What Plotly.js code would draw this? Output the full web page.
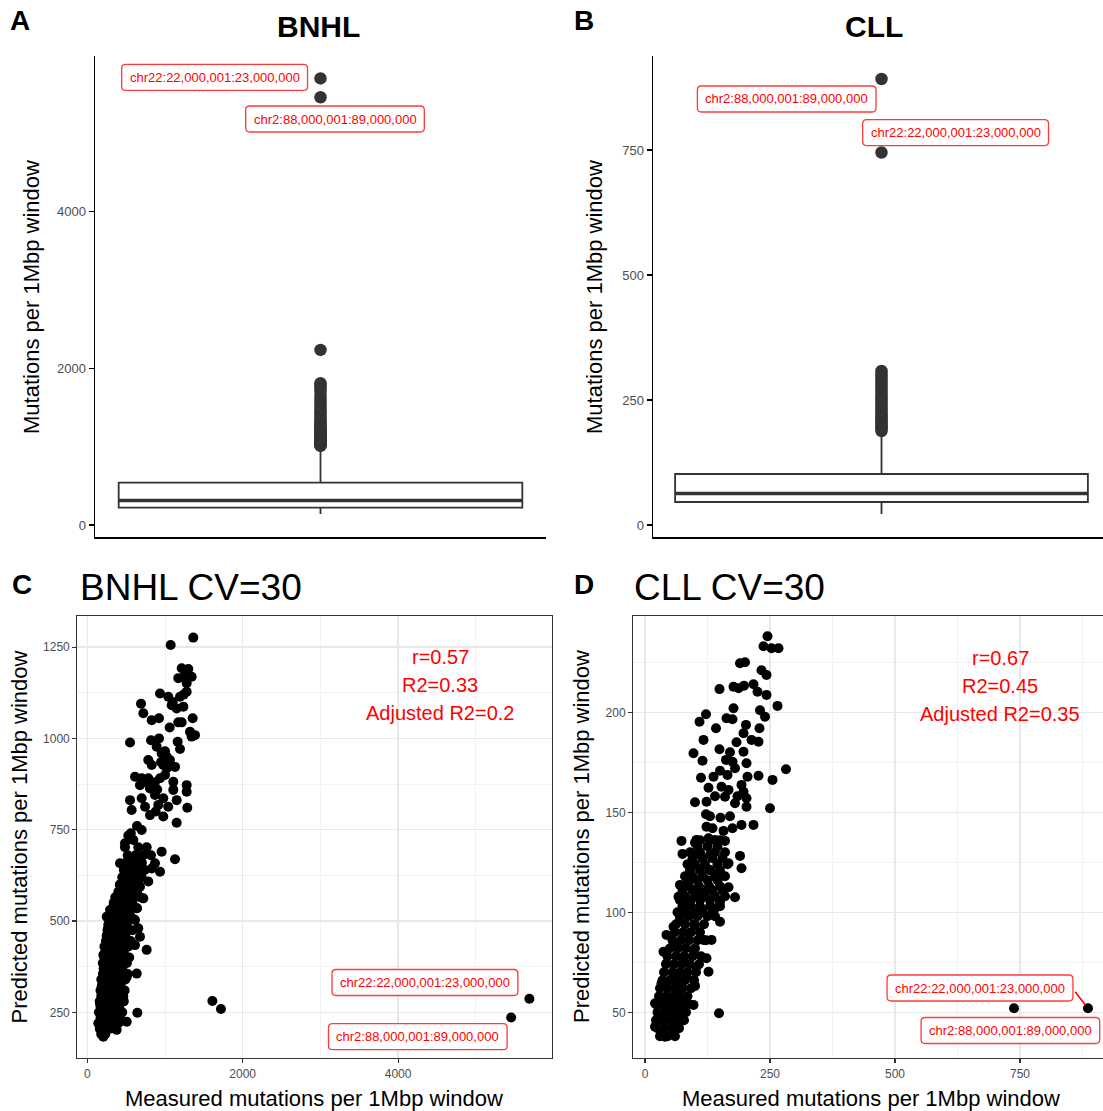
<!DOCTYPE html>
<html><head><meta charset="utf-8">
<script src="https://cdn.plot.ly/plotly-3.0.1.min.js"></script>
<style>html,body{margin:0;padding:0;background:#fff}</style>
</head><body><div id="chart" style="width:1103px;height:1111px"></div>
<script>
// ---------- Data ----------
// Panel A (BNHL) box statistics and outliers
const aStats = {lower:140, q1:221, median:312, q3:540, upper:960};
const aOutliers = [1010,1018,1026,1034,1042,1050,1058,1066,1075,1084,1093,1102,1112,1122,1133,1145,1158,1172,1186,1200,1216,1232,1250,1268,1288,1310,1333,1357,1382,1410,1440,1472,1505,1540,1580,1620,1665,1710,1750,1785,1810,2235,5460,5700];
const aTicks = [0,2000,4000];
// Panel B (CLL)
const bStats = {lower:22, q1:46, median:63, q3:102, upper:180};
const bOutliers = [188,192,196,200,204,208,212,216,220,225,230,235,240,245,250,255,260,266,272,278,284,290,296,302,308,745,892];
const bTicks = [0,250,500,750];

// Panel C (BNHL CV=30): measured vs predicted
const cMeasured = [
 1364,1073,1215,1343,1171,1279,1279,936,1042,1193,
 691,1086,1236,1150,721,829,923,1356,1171,1215,
 1322,1386,1343,550,820,923,1163,893,1193,957,
 1022,1064,785,829,978,1129,1022,614,700,785,
 936,678,1107,1279,1279,807,1107,550,700,871,
 978,1150,571,743,914,1042,1287,807,978,1150,
 700,528,592,485,
 1000,950,1050,870,900,760,1000,1100,1250,1300,1240,880,640,560,1060,
 485,656,764,957,1129,421,550,700,871,936,
 829,785,421,678,614,721,378,507,292,636,
 335,550,250,614,656,463,270,678,764,614,
 378,250,206,463,335,636,215,507,378,185,
 314,463,163,292,644,507,142,228,206,378,
 1610,1720,5455,5690,
 180,230, 160,220,290,360, 150,230,310,400, 170,250,330,420, 150,210,290,370,450,
 170,250,330,410, 160,230,310,390,470, 180,260,340,420, 170,240,320,400,480,
 190,270,350,430, 180,250,330,410,490, 200,280,360,440,520, 210,290,370,450,
 200,270,350,430,510, 220,300,380,460,540, 230,310,390,470, 220,290,370,450,530,
 240,320,400,480,560, 250,330,410,490, 260,340,420,500,580, 270,350,430,510,
 280,360,440,520,600, 300,380,460,540, 320,400,480,560,640, 340,420,500,580,
 360,440,520,600,680, 400,480,560,640, 420,500,580,660, 450,530,610,700,
 470,560,650,740, 500,600,700, 520,620,720,820
];
const cPredicted = [
 1276,1256,1192,1169,1165,1151,1128,1123,1114,1114,
 1095,1091,1087,1082,1069,1050,1055,1055,1044,1044,
 1018,1009,1005,989,995,1000,991,977,971,959,
 950,941,941,927,927,922,918,895,891,891,
 891,872,881,872,854,863,859,831,836,845,
 836,831,804,813,818,813,810,790,786,769,
 749,734,722,713,
 965,935,930,880,860,880,900,1100,1170,1190,1120,800,760,740,1030,
 702,702,702,690,669,658,653,658,658,635,
 644,608,598,594,571,562,553,544,530,535,
 512,516,512,503,480,480,480,457,421,434,
 448,457,407,411,393,356,361,347,329,320,
 306,293,274,265,249,224,220,192,183,202,
 281,259,236,287,
 190,190, 205,205,205,205, 220,220,220,220, 235,235,235,235, 250,250,250,250,250,
 265,265,265,265, 280,280,280,280,280, 295,295,295,295, 310,310,310,310,310,
 325,325,325,325, 340,340,340,340,340, 355,355,355,355,355, 370,370,370,370,
 385,385,385,385,385, 400,400,400,400,400, 415,415,415,415, 430,430,430,430,430,
 445,445,445,445,445, 460,460,460,460, 475,475,475,475,475, 490,490,490,490,
 505,505,505,505,505, 520,520,520,520, 535,535,535,535,535, 550,550,550,550,
 565,565,565,565,565, 580,580,580,580, 600,600,600,600, 620,620,620,620,
 640,640,640,640, 660,660,660, 680,680,680,680
];
const cXTicks = [0,2000,4000];
const cYTicks = [250,500,750,1000,1250];

// Panel D (CLL CV=30)
const dMeasured = [
 245,237,253,267,190,200,233,243,149,177,
 187,198,217,225,243,265,122,177,163,175,
 230,240,109,142,202,229,197,213,227,183,
 117,97,149,170,197,115,162,175,203,282,
 150,180,112,137,165,205,227,255,127,153,
 167,193,197,100,123,160,180,203,203,250,
 122,151,193,217,123,157,73,103,127,140,160,
 100,75,98,130,190,167,193,147,130,70,
 90,167,133,110,67,180,150,90,140,77,
 113,150,70,57,100,43,87,133,117,37,
 63,97,123,127,43,77,103,57,83,100,
 33,63,20,43,73,97,148,27,53,70,
 33,40,57,20,738,886,
 30,45,60, 25,40,55,68, 22,35,50,65,78, 25,40,55,70,82, 22,35,48,62,76,88,
 28,42,56,70,85, 30,45,60,75,92, 35,50,65,80,98, 38,55,70,85,102,
 42,58,74,90,108, 45,62,78,95,112, 50,66,82,100, 55,72,88,105,122,
 60,76,92,110, 62,80,98,118, 70,88,105,125,140, 75,92,110,130,150,
 80,100,120,140,160, 88,108,128,150, 80,95,115,140,160, 85,100,120,145,165,
 90,110,140,160, 110,130,150, 135,175, 130,170, 140,185,
 65,80,95,115,135, 70,90,110,130, 75,95,115,135,155, 85,105,125,145,
 90,110,130,150, 95,115,135,155, 105,125,145
];
const dPredicted = [
 238,233,232,232,224.5,225,221,218.7,211.6,212.8,
 212,213.3,214,210.3,208.7,203.2,199,202,197,196.5,
 201,197.8,195.3,192,193.7,192,189.5,186.2,185.3,185,
 186.2,179.5,181.5,180,180.3,175.8,176.2,175.3,174.5,171.5,
 170.8,172,167.3,167.8,168.7,167.8,168.3,166.2,162.3,162.8,
 161.2,163.7,160.3,155,155.3,157.8,154.5,157,152.8,152,
 149,147.3,143.7,143.7,142.8,140.7,135.7,136.2,137,136.2,135.7,
 134.8,129.2,128.7,128.7,128.2,124.5,122,119.5,121.2,113.7,
 116.2,112.5,111.2,109.5,107.8,107.5,105.3,105.3,102,102.8,
 101.2,95.3,96.2,92.8,93.7,88.7,89.5,86.2,86.2,80.3,
 82.8,81.2,77,70.3,74.5,76.2,72.8,69.5,67.8,63.2,
 64.5,62,54.5,57.8,56.2,53.7,49.5,47.8,48.7,45.3,
 39.5,37.8,40.3,42.8,52,52,
 38,38,38, 42,42,42,42, 46,46,46,46,46, 50,50,50,50,50, 54,54,54,54,54,54,
 58,58,58,58,58, 62,62,62,62,62, 66,66,66,66,66, 70,70,70,70,70,
 74,74,74,74,74, 78,78,78,78,78, 82,82,82,82, 86,86,86,86,86,
 90,90,90,90, 94,94,94,94, 98,98,98,98,98, 103,103,103,103,103,
 108,108,108,108,108, 113,113,113,113, 118,118,118,118,118, 124,124,124,124,124,
 130,130,130,130, 136,136,136, 142,142, 148,148, 158,158,
 100,100,100,100,100, 106,106,106,106, 111,111,111,111,111, 116,116,116,116,
 121,121,121,121, 127,127,127,127, 133,133,133
];
const dXTicks = [0,250,500,750];
const dYTicks = [50,100,150,200];

const labelChr22 = 'chr22:22,000,001:23,000,000';
const labelChr2 = 'chr2:88,000,001:89,000,000';
const statsC = ['r=0.57','R2=0.33','Adjusted R2=0.2'];
const statsD = ['r=0.67','R2=0.45','Adjusted R2=0.35'];

// ---------- Layout helpers ----------
const W = 1103, H = 1111;
const fx = p => p / W, fy = p => 1 - p / H;
const FONT = 'Liberation Sans, Arial, Helvetica, sans-serif';
const boxWA = 1.79, boxWB = 1.83;

function boxTrace(st, w, xa, ya) {
  return {type:'box', x:[0], q1:[st.q1], median:[st.median], q3:[st.q3],
    lowerfence:[st.lower], upperfence:[st.upper], width:w, boxpoints:false,
    whiskerwidth:0, fillcolor:'#ffffff', line:{color:'#333333', width:1.8},
    xaxis:xa, yaxis:ya, hoverinfo:'skip'};
}
function medianTrace(st, w, xa, ya) {
  return {type:'scatter', mode:'lines', x:[-w/2, w/2], y:[st.median, st.median],
    line:{color:'#333333', width:3.6}, xaxis:xa, yaxis:ya, hoverinfo:'skip'};
}
function outlierTrace(vals, xa, ya) {
  return {type:'scatter', mode:'markers', x:vals.map(() => 0), y:vals,
    marker:{color:'#333333', size:12.5}, xaxis:xa, yaxis:ya, hoverinfo:'skip'};
}
function scatterTrace(xs, ys, xa, ya) {
  return {type:'scatter', mode:'markers', x:xs, y:ys,
    marker:{color:'#000000', size:10}, xaxis:xa, yaxis:ya, hoverinfo:'skip'};
}

const data = [
  boxTrace(aStats, boxWA, 'x', 'y'), medianTrace(aStats, boxWA, 'x', 'y'), outlierTrace(aOutliers, 'x', 'y'),
  boxTrace(bStats, boxWB, 'x2', 'y2'), medianTrace(bStats, boxWB, 'x2', 'y2'), outlierTrace(bOutliers, 'x2', 'y2'),
  scatterTrace(cMeasured, cPredicted, 'x3', 'y3'),
  scatterTrace(dMeasured, dPredicted, 'x4', 'y4')
];

const classicX = (dom, rng, anchor) => ({domain:dom, range:rng, anchor:anchor, showline:true,
  linecolor:'#000', linewidth:1.5, showgrid:false, zeroline:false, showticklabels:false, ticks:'', fixedrange:true});
const classicY = (dom, rng, anchor, tv) => ({domain:dom, range:rng, anchor:anchor, showline:true,
  linecolor:'#000', linewidth:1.5, showgrid:false, zeroline:false, tickvals:tv, ticks:'outside',
  ticklen:5, tickwidth:1.5, tickcolor:'#000', tickfont:{family:FONT, size:13, color:'#4d4d4d'}, fixedrange:true});
const bwAxis = (dom, rng, anchor, tv, minorv, mirror) => ({domain:dom, range:rng, anchor:anchor,
  showline:true, mirror:mirror, linecolor:'#333333', linewidth:1.2, zeroline:false,
  showgrid:true, gridcolor:'#e8e8e8', gridwidth:1.4, tickvals:tv, ticks:'outside', ticklen:4,
  tickwidth:1.1, tickcolor:'#333333', tickfont:{family:FONT, size:12, color:'#4d4d4d'},
  minor:{tickmode:'array', tickvals:minorv, showgrid:true, gridcolor:'#f0f0f0', gridwidth:0.8},
  fixedrange:true});

const yTopAB = [fy(537), fy(56)];
const yBotCD = [fy(1058), fy(616)];

function ann(text, x, y, size, opts) {
  return Object.assign({text:text, x:fx(x), y:fy(y), xref:'paper', yref:'paper', showarrow:false,
    xanchor:'center', yanchor:'middle', font:{family:FONT, size:size, color:'#000'}}, opts || {});
}

// rounded label boxes (ggrepel style)
const ctx = document.createElement('canvas').getContext('2d');
ctx.font = '13px "Liberation Sans", Arial, sans-serif';
const shapes = [];
function roundRect(cx, cy, w, h, r) {
  const x0 = cx - w/2, x1 = cx + w/2, y0 = cy - h/2, y1 = cy + h/2;
  const X = v => fx(v), Y = v => fy(v);
  return `M ${X(x0+r)} ${Y(y0)} L ${X(x1-r)} ${Y(y0)} Q ${X(x1)} ${Y(y0)} ${X(x1)} ${Y(y0+r)} ` +
         `L ${X(x1)} ${Y(y1-r)} Q ${X(x1)} ${Y(y1)} ${X(x1-r)} ${Y(y1)} L ${X(x0+r)} ${Y(y1)} ` +
         `Q ${X(x0)} ${Y(y1)} ${X(x0)} ${Y(y1-r)} L ${X(x0)} ${Y(y0+r)} Q ${X(x0)} ${Y(y0)} ${X(x0+r)} ${Y(y0)} Z`;
}
function redLabel(text, x, y) {
  const w = ctx.measureText(text).width + 16;
  shapes.push({type:'path', xref:'paper', yref:'paper', path:roundRect(x, y, w, 26, 4),
    fillcolor:'#ffffff', line:{color:'#ff3b3b', width:1.3}, layer:'above'});
  return ann(text, x, y, 13, {font:{family:FONT, size:13, color:'#ff0000'}});
}

const iFar = dMeasured.indexOf(Math.max(...dMeasured));
const annotations = [
  ann('<b>A</b>', 20, 21, 28), ann('<b>B</b>', 583.5, 21, 28),
  ann('<b>C</b>', 21.5, 584.5, 28), ann('<b>D</b>', 583.5, 584.5, 28),
  ann('<b>BNHL</b>', 318, 27, 30), ann('<b>CLL</b>', 873.5, 27, 30),
  ann('BNHL CV=30', 78, 587, 37, {xanchor:'left'}), ann('CLL CV=30', 632, 587, 37, {xanchor:'left'}),
  ann('Mutations per 1Mbp window', 31, 297, 22, {textangle:-90}),
  ann('Mutations per 1Mbp window', 594, 297, 22, {textangle:-90}),
  ann('Predicted mutations per 1Mbp window', 18.5, 837, 22, {textangle:-90}),
  ann('Predicted mutations per 1Mbp window', 581, 837, 22, {textangle:-90}),
  ann('Measured mutations per 1Mbp window', 314, 1098, 22),
  ann('Measured mutations per 1Mbp window', 871, 1098, 22),
  // red segment from D chr22 label to its point (drawn under the label box)
  {text:'', x:dMeasured[iFar], y:dPredicted[iFar], xref:'x4', yref:'y4',
   showarrow:true, arrowhead:0, arrowwidth:1.6, arrowcolor:'#ff0000', axref:'pixel', ayref:'pixel',
   ax:-14, ay:-18, standoff:4},
  redLabel(labelChr22, 214.6, 77.4), redLabel(labelChr2, 335, 119),
  redLabel(labelChr2, 786.7, 99), redLabel(labelChr22, 955.6, 132.6),
  redLabel(labelChr22, 424.9, 982.5), redLabel(labelChr2, 417.8, 1036.7),
  redLabel(labelChr2, 1010.4, 1030.5), redLabel(labelChr22, 980, 988),
];
statsC.forEach((t, i) => annotations.push(ann(t, 440, 657 + 28 * i, 20, {font:{family:FONT, size:20, color:'#ff0000'}})));
statsD.forEach((t, i) => annotations.push(ann(t, 1000, 658 + 28 * i, 20, {font:{family:FONT, size:20, color:'#ff0000'}})));

const layout = {
  width:W, height:H, margin:{l:0, r:0, t:0, b:0}, paper_bgcolor:'#ffffff', plot_bgcolor:'#ffffff',
  showlegend:false, font:{family:FONT},
  xaxis: classicX([fx(95), fx(546)], [-1, 1], 'y'),
  yaxis: classicY(yTopAB, [-153, 5986], 'x', aTicks),
  xaxis2: classicX([fx(653), 1], [-1.013, 0.982], 'y2'),
  yaxis2: classicY(yTopAB, [-24, 938], 'x2', bTicks),
  xaxis3: bwAxis([fx(77.4), fx(551.7)], [-127.4, 5977], 'y3', cXTicks, [1000,3000,5000], true),
  yaxis3: bwAxis(yBotCD, [124.9, 1335.2], 'x3', cYTicks, [375,625,875,1125], true),
  xaxis4: bwAxis([fx(633.25), 1], [-23.5, 916], 'y4', dXTicks, [125,375,625,875], true),
  yaxis4: bwAxis(yBotCD, [27.15, 248.15], 'x4', dYTicks, [75,125,175,225], false),
  shapes: shapes,
  annotations: annotations
};

Plotly.newPlot('chart', data, layout, {staticPlot:true, displayModeBar:false});
</script>
</body></html>
